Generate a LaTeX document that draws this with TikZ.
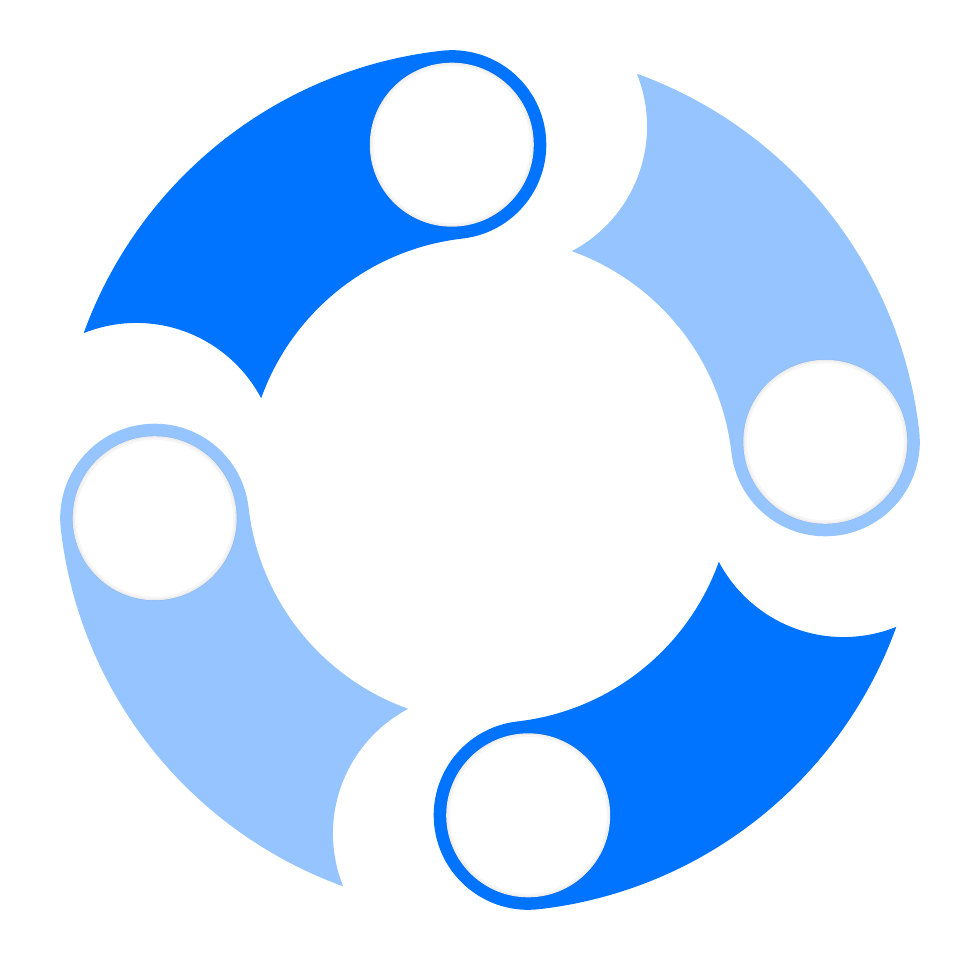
\documentclass[tikz,border=0pt]{standalone}
\usepackage{tikz}
\definecolor{ringdark}{RGB}{0,115,255}
\definecolor{ringlight}{RGB}{149,196,255}
\tikzset{band/.style={fill=#1}, hole/.style={fill=white}, holeshade/.style={draw=black,opacity=0.035,line width=#1}}

\begin{document}
\begin{tikzpicture}[x=0.025cm,y=0.025cm]
\useasboundingbox (-490,-500) rectangle (490,480);
\foreach \a/\c in {96.5/ringdark,6.5/ringlight,-83.5/ringdark,186.5/ringlight}
{
\begin{scope}[rotate=\a,even odd rule]
\clip (0,0) circle[radius=470] (80.9:354) circle[radius=141];
\path[band=\c,nonzero rule] (0:432) arc[start angle=0,end angle=80.9,radius=432] -- (80.9:243)
  arc[start angle=80.9,end angle=0,radius=243] arc[start angle=180,end angle=360,radius=94.5] -- cycle;
\end{scope}
}
\foreach \a in {96.5,6.5,-83.5,186.5}
{
\path[hole] (\a:337.5) circle[radius=82];
\path[holeshade=1.2] (\a:337.5) circle[radius=81.4];
\path[holeshade=3] (\a:337.5) circle[radius=80.5];
}
\end{tikzpicture}
\end{document}
